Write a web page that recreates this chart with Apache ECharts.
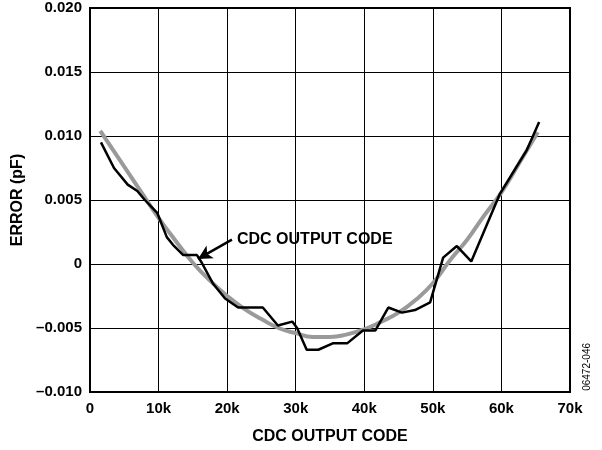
<!DOCTYPE html>
<html>
<head>
<meta charset="utf-8">
<script src="https://cdn.jsdelivr.net/npm/echarts@6/dist/echarts.min.js"></script>
<style>
html,body{margin:0;padding:0;background:#fff;}
#chart{width:602px;height:450px;}
</style>
</head>
<body>
<div id="chart"></div>
<script>
// Measured CDC output code error (black)
var measuredCodes = [1600,3500,5500,6900,8000,9800,11200,12100,13600,15600,16300,17900,19700,21600,25200,27400,29500,30200,31600,33300,35400,37500,39800,41600,43500,45500,47400,49600,51500,53500,55600,59800,63700,65500];
var measuredError = [0.0095,0.0075,0.0062,0.0057,0.0050,0.0040,0.0021,0.0015,0.0007,0.0007,0.0001,-0.0015,-0.0027,-0.0034,-0.0034,-0.0048,-0.0045,-0.0050,-0.0067,-0.0067,-0.0062,-0.0062,-0.0052,-0.0052,-0.0034,-0.0038,-0.0036,-0.0030,0.0005,0.0014,0.0002,0.0055,0.0089,0.0111];
// Smooth trend (gray)
var trendCodes = [1500,3500,5500,7500,10000,12500,15000,17500,20000,22500,25000,27500,30000,32500,35000,37500,40000,42500,45000,47500,50000,52500,55000,57500,60000,62500,65300];
var trendError = [0.0104,0.0088,0.0072,0.0056,0.0036,0.0018,0.0001,-0.0013,-0.0025,-0.0035,-0.0043,-0.0050,-0.0054,-0.0057,-0.0057,-0.0055,-0.0051,-0.0045,-0.0038,-0.0028,-0.0015,0.0003,0.0019,0.0038,0.0056,0.0078,0.0103];
// Tick labels
var xTickValues = [0,10000,20000,30000,40000,50000,60000,70000];
var xTickLabels = ['0','10k','20k','30k','40k','50k','60k','70k'];
var yTickValues = [-0.010,-0.005,0,0.005,0.010,0.015,0.020];
var yTickLabels = ['\u20130.010','\u20130.005','0','0.005','0.010','0.015','0.020'];
// Annotation
var annotationText = 'CDC OUTPUT CODE';
var arrowFrom = [20700, 0.0019];
var arrowTo = [15750, 0.0004];

function zip(a, b){ return a.map(function(v,i){ return [v, b[i]]; }); }
function lookup(vals, labels, v){
  for (var i=0;i<vals.length;i++){ if (Math.abs(vals[i]-v) < 1e-9) return labels[i]; }
  return '';
}

var chart = echarts.init(document.getElementById('chart'), null, {renderer:'canvas'});
var font = 'Arial, "Liberation Sans", Helvetica, sans-serif';
chart.setOption({
  animation:false,
  backgroundColor:'#fff',
  grid:{left:90, right:32, top:8, bottom:58, show:true, borderColor:'#000', borderWidth:2, backgroundColor:'transparent'},
  xAxis:{
    type:'value', min:0, max:70000, interval:10000,
    name:'CDC OUTPUT CODE', nameLocation:'middle', nameGap:37,
    nameTextStyle:{fontFamily:font, fontWeight:'bold', fontSize:16, color:'#000'},
    axisLine:{show:true, onZero:false, lineStyle:{color:'#000', width:2}},
    axisTick:{show:false},
    axisLabel:{fontFamily:font, fontWeight:'bold', fontSize:15, color:'#000', margin:9,
      formatter:function(v){ return lookup(xTickValues, xTickLabels, v); }},
    splitLine:{show:true, lineStyle:{color:'#000', width:1}}
  },
  yAxis:{
    type:'value', min:-0.010, max:0.020, interval:0.005,
    name:'ERROR (pF)', nameLocation:'middle', nameGap:62,
    nameTextStyle:{fontFamily:font, fontWeight:'bold', fontSize:16, color:'#000'},
    axisLine:{show:true, onZero:false, lineStyle:{color:'#000', width:2}},
    axisTick:{show:false},
    axisLabel:{fontFamily:font, fontWeight:'bold', fontSize:15, color:'#000', margin:8,
      formatter:function(v){ return lookup(yTickValues, yTickLabels, v); }},
    splitLine:{show:true, lineStyle:{color:'#000', width:1}}
  },
  series:[
    {
      type:'line', name:'trend', data:zip(trendCodes, trendError),
      smooth:true, showSymbol:false, symbol:'none',
      lineStyle:{color:'#9a9a9a', width:4}, z:2
    },
    {
      type:'line', name:'measured', data:zip(measuredCodes, measuredError),
      showSymbol:false, symbol:'none',
      lineStyle:{color:'#000', width:2.5}, z:3,
      markLine:{
        silent:true, symbol:['none','arrow'], symbolSize:[11,14],
        lineStyle:{color:'#000', width:2.5, type:'solid'},
        label:{show:false},
        data:[[{coord:arrowFrom},{coord:arrowTo}]]
      }
    }
  ],
  graphic:[
    {type:'text', left:237, top:232, style:{text:annotationText, font:'bold 16px '+font, fill:'#000'}},
    {type:'text', left:582, top:343, rotation:Math.PI/2, style:{text:'06472-046', font:'10px '+font, fill:'#000'}}
  ]
});
</script>
</body>
</html>
